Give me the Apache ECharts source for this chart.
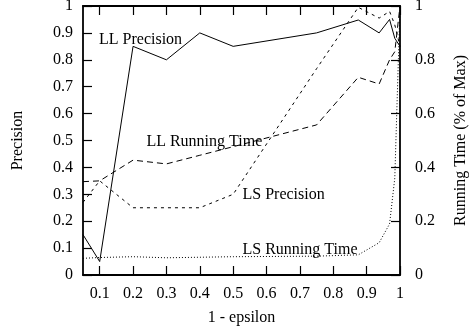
<!DOCTYPE html>
<html>
<head>
<meta charset="utf-8">
<script src="https://cdn.jsdelivr.net/npm/echarts@6/dist/echarts.min.js"></script>
<style>
  html, body { margin: 0; padding: 0; background: #fff; }
  #chart { width: 474px; height: 326px; }
</style>
</head>
<body>
<div id="chart"></div>
<script>
// 1 - epsilon sample points
const xValues = [0.05, 0.1, 0.2, 0.3, 0.4, 0.5, 0.75, 0.875, 0.9375, 0.96875, 0.984375, 1.0];

// Precision (left axis)
const llPrecision = [0.15, 0.05, 0.85, 0.80, 0.90, 0.85, 0.90, 0.948, 0.90, 0.95, 0.88, 0.85];
const lsPrecision = [0.27, 0.35, 0.25, 0.25, 0.25, 0.30, 0.767, 0.995, 0.955, 0.98, 0.93, 0.85];

// Running time as fraction of max (right axis)
const llRunningTime = [0.347, 0.35, 0.427, 0.413, 0.445, 0.477, 0.558, 0.735, 0.71, 0.80, 0.83, 1.0];
const lsRunningTime = [0.062, 0.065, 0.068, 0.064, 0.066, 0.068, 0.07, 0.075, 0.12, 0.19, 0.36, 1.0];

// Tick labels
const xTicks = [0.1, 0.2, 0.3, 0.4, 0.5, 0.6, 0.7, 0.8, 0.9, 1];

// In-plot curve captions: [text, x, y (left axis units)]
const captions = [
  ['LL Precision', 0.098, 0.876],
  ['LL Running Time', 0.24, 0.4955],
  ['LS Precision', 0.528, 0.297],
  ['LS Running Time', 0.528, 0.0955]
];

const FONT = 'Liberation Serif';
const FS = 16;

function pairs(ys) { return xValues.map((x, i) => [x, ys[i]]); }
function fmt(v) { return String(Math.round(v * 10) / 10); }

const chart = echarts.init(document.getElementById('chart'), null, { renderer: 'canvas' });

const axisLineStyle = { show: true, onZero: false, lineStyle: { color: '#000', width: 1.8 } };
const tickStyle = { color: '#000', width: 1.2 };

const option = {
  animation: false,
  backgroundColor: '#fff',
  textStyle: { fontFamily: FONT },
  grid: { left: 83, right: 74, top: 6, bottom: 51, containLabel: false, outerBoundsMode: 'none' },
  xAxis: [
    {
      type: 'value', min: 0.05, max: 1, position: 'bottom',
      name: '1 - epsilon', nameLocation: 'middle', nameGap: 35,
      nameTextStyle: { fontFamily: FONT, fontSize: FS, color: '#000' },
      axisLine: axisLineStyle,
      axisTick: { show: true, inside: true, length: 9, customValues: xTicks, lineStyle: tickStyle },
      axisLabel: { show: true, customValues: xTicks, formatter: fmt, margin: 11,
                   fontFamily: FONT, fontSize: FS, color: '#000' },
      splitLine: { show: false }
    },
    {
      type: 'value', min: 0.05, max: 1, position: 'top',
      axisLine: axisLineStyle,
      axisTick: { show: true, inside: true, length: 9, customValues: xTicks, lineStyle: tickStyle },
      axisLabel: { show: false },
      splitLine: { show: false }
    }
  ],
  yAxis: [
    {
      type: 'value', min: 0, max: 1, interval: 0.1, position: 'left',
      name: 'Precision', nameLocation: 'middle', nameRotate: 90, nameGap: 57,
      nameTextStyle: { fontFamily: FONT, fontSize: FS, color: '#000' },
      axisLine: axisLineStyle,
      axisTick: { show: true, inside: true, length: 9, lineStyle: tickStyle },
      axisLabel: { formatter: fmt, margin: 10, fontFamily: FONT, fontSize: FS, color: '#000' },
      splitLine: { show: false }
    },
    {
      type: 'value', min: 0, max: 1, interval: 0.2, position: 'right',
      name: 'Running Time (% of Max)', nameLocation: 'middle', nameRotate: 90, nameGap: 53,
      nameTextStyle: { fontFamily: FONT, fontSize: FS, color: '#000' },
      axisLine: axisLineStyle,
      axisTick: { show: true, inside: true, length: 9, lineStyle: tickStyle },
      axisLabel: { formatter: fmt, margin: 15, fontFamily: FONT, fontSize: FS, color: '#000' },
      splitLine: { show: false }
    }
  ],
  series: [
    {
      name: 'LL Precision', type: 'line', xAxisIndex: 0, yAxisIndex: 0,
      data: pairs(llPrecision), showSymbol: false, symbol: 'none',
      lineStyle: { color: '#000', width: 1, type: 'solid' }
    },
    {
      name: 'LL Running Time', type: 'line', xAxisIndex: 0, yAxisIndex: 1,
      data: pairs(llRunningTime), showSymbol: false, symbol: 'none',
      lineStyle: { color: '#000', width: 1, type: [6, 4] }
    },
    {
      name: 'LS Precision', type: 'line', xAxisIndex: 0, yAxisIndex: 0,
      data: pairs(lsPrecision), showSymbol: false, symbol: 'none',
      lineStyle: { color: '#000', width: 1, type: [3, 4] }
    },
    {
      name: 'LS Running Time', type: 'line', xAxisIndex: 0, yAxisIndex: 1,
      data: pairs(lsRunningTime), showSymbol: false, symbol: 'none',
      lineStyle: { color: '#000', width: 1, type: [1, 2] }
    }
  ]
};

chart.setOption(option);

// Curve captions placed in data coordinates
const graphics = captions.map(([text, x, y]) => {
  const p = chart.convertToPixel({ xAxisIndex: 0, yAxisIndex: 0 }, [x, y]);
  return {
    type: 'text', x: p[0], y: p[1], z: 10,
    style: { text: text, fontFamily: FONT, fontSize: FS, fill: '#000',
             align: 'left', verticalAlign: 'middle' }
  };
});
chart.setOption({ graphic: graphics });
</script>
</body>
</html>
